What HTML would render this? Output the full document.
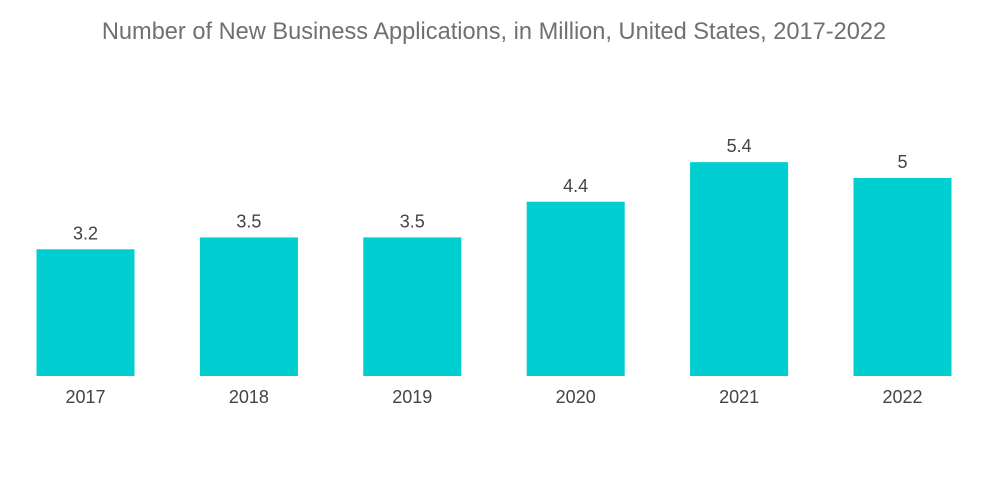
<!DOCTYPE html>
<html><head><meta charset="utf-8"><style>
body{margin:0;background:#fff;}
svg{display:block;font-family:"Liberation Sans",sans-serif;}
</style></head><body>
<svg id="chart" width="1000" height="504">
<text x="494" y="39" text-anchor="middle" font-size="23.6" fill="#707070">Number of New Business Applications, in Million, United States, 2017-2022</text>
<g id="bars"></g>
</svg>
<script>
const categories=["2017","2018","2019","2020","2021","2022"];
const values=[3.2,3.5,3.5,4.4,5.4,5];
const valueLabels=["3.2","3.5","3.5","4.4","5.4","5"];
const baseY=376, pxPerUnit=39.6, x0=85.5, step=163.4, bw=98;
const yScale=v=>baseY-v*pxPerUnit;
const xScale=i=>x0+i*step;
const g=document.getElementById('bars');
const NS="http://www.w3.org/2000/svg";
categories.forEach((c,i)=>{
  const cx=xScale(i), top=yScale(values[i]);
  const r=document.createElementNS(NS,'rect');
  r.setAttribute('x',cx-bw/2);r.setAttribute('y',top);
  r.setAttribute('width',bw);r.setAttribute('height',baseY-top);
  r.setAttribute('fill','#00ced1');
  
  
  g.appendChild(r);
  const t=document.createElementNS(NS,'text');
  t.setAttribute('x',cx);t.setAttribute('y',top-10);
  t.setAttribute('text-anchor','middle');t.setAttribute('font-size','18');t.setAttribute('fill','#444');
  t.textContent=valueLabels[i];
  
  
  g.appendChild(t);
  const l=document.createElementNS(NS,'text');
  l.setAttribute('x',cx);l.setAttribute('y',403);
  l.setAttribute('text-anchor','middle');l.setAttribute('font-size','18');l.setAttribute('fill','#444');
  l.textContent=c;
  
  
  g.appendChild(l);
});
</script>
</body></html>
